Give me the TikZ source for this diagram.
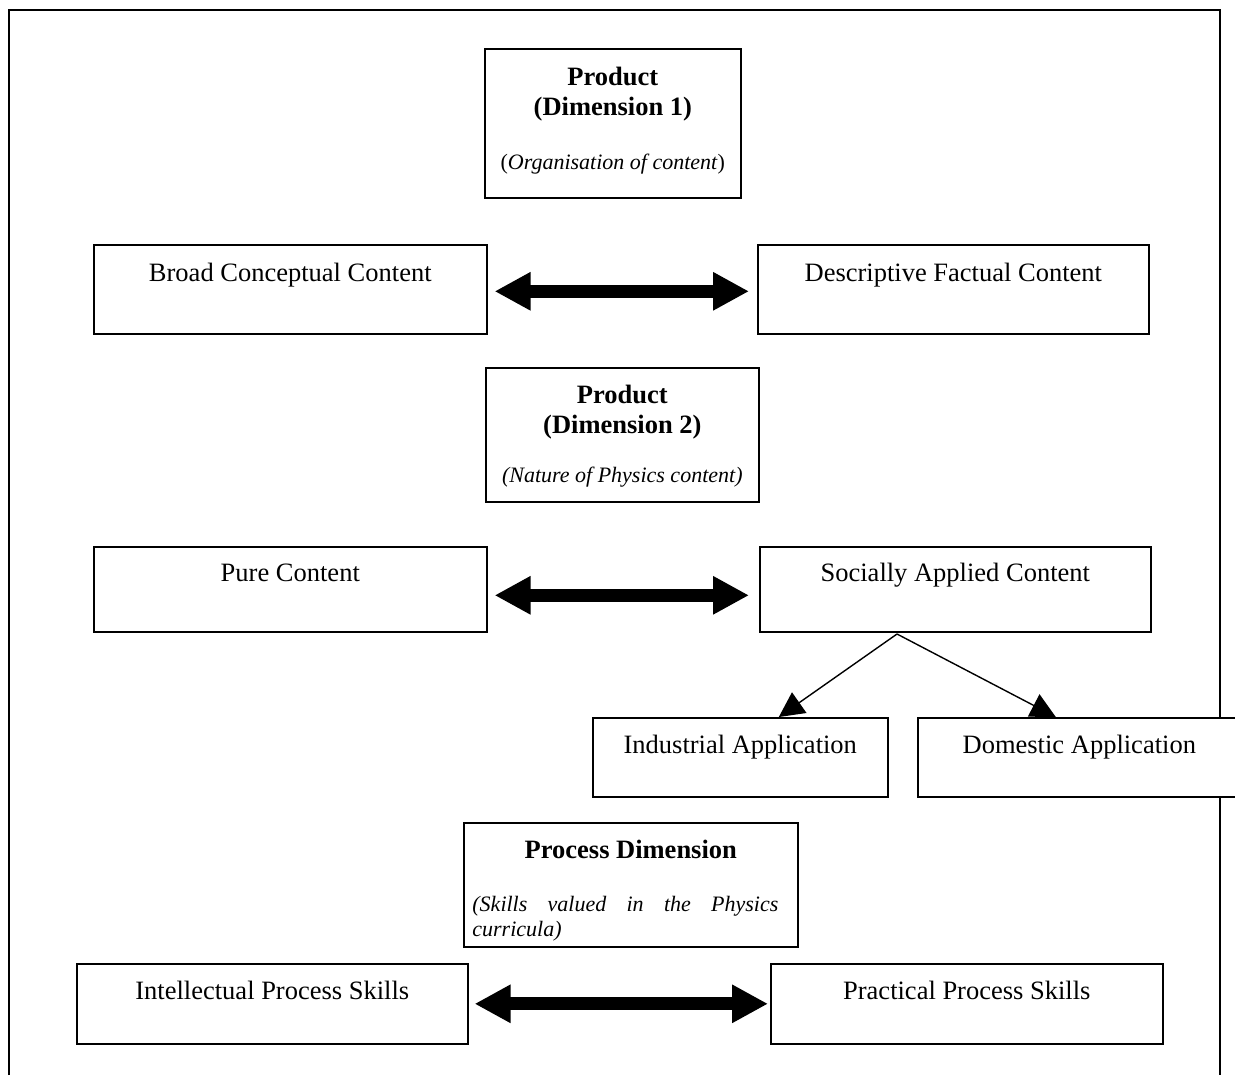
\documentclass[tikz,border=0pt]{standalone}
\usepackage{fontspec}
\setmainfont{Liberation Serif}
\usetikzlibrary{arrows.meta}

\begin{document}
\begin{tikzpicture}[x=0.5pt,y=-0.5pt,
	box/.style={draw=black,line width=0.8pt,fill=white,anchor=north west,inner sep=0pt},
	boxtext/.style={inner sep=0pt,font=\fontsize{13.25}{15}\selectfont},
	title/.style={inner sep=0pt,align=center,font=\fontsize{13.25}{15}\selectfont\bfseries},
	note/.style={inner sep=0pt,font=\fontsize{11}{12.5}\selectfont\itshape},
	bigarrow/.style={line width=6.5pt,{Triangle[length=18pt,width=18pt]}-{Triangle[length=18pt,width=18pt]}},
	thinarrow/.style={line width=0.7pt,-{Triangle[length=12.5pt,width=12.5pt]}}]
					\useasboundingbox (0,0) rectangle (1235,1075);
					\draw[line width=1pt] (9,1075) -- (9,10) -- (1220,10) -- (1220,1075);
					
					\node[box,minimum width=128pt,minimum height=74.5pt] (prodone) at (484,48) {};
					\node[title,anchor=north] (prodonetitle) at ([yshift=-9.5pt]prodone.north) {Product\\(Dimension 1)};
					\node[note,anchor=base] (prodonenote) at ([yshift=-61pt]prodone.north) {\upshape(\textit{Organisation of content}\/)};
					
					\node[box,minimum width=196.5pt,minimum height=44.5pt] (broad) at (93,244) {};
					\node[boxtext,anchor=base] (broadtxt) at ([yshift=-18.5pt]broad.north) {Broad Conceptual Content};
					\node[box,minimum width=195.5pt,minimum height=44.5pt] (descr) at (757,244) {};
					\node[boxtext,anchor=base] (descrtxt) at ([yshift=-18.5pt]descr.north) {Descriptive Factual Content};
					
					\node[box,minimum width=136.5pt,minimum height=67pt] (prodtwo) at (485,367) {};
					\node[title,anchor=north] (prodtwotitle) at ([yshift=-9pt]prodtwo.north) {Product\\(Dimension 2)};
					\node[note,anchor=base] (prodtwonote) at ([yshift=-57.5pt]prodtwo.north) {(Nature of Physics content)};
					
					\node[box,minimum width=196.5pt,minimum height=42.5pt] (pure) at (93,546) {};
					\node[boxtext,anchor=base] (puretxt) at ([yshift=-17.5pt]pure.north) {Pure Content};
					\node[box,minimum width=195.5pt,minimum height=42.5pt] (social) at (759,546) {};
					\node[boxtext,anchor=base] (socialtxt) at ([yshift=-17.5pt]social.north) {Socially Applied Content};
					
					\node[box,minimum width=147.5pt,minimum height=39.5pt] (indus) at (592,717) {};
					\node[boxtext,anchor=base] (industxt) at ([yshift=-18pt]indus.north) {Industrial Application};
					\node[box,minimum width=161.5pt,minimum height=39.5pt] (domes) at (917,717) {};
					\node[boxtext,anchor=base] (domestxt) at ([yshift=-18pt]domes.north) {Domestic Application};
					
					\node[box,minimum width=167pt,minimum height=62pt] (procdim) at (463,822) {};
					\node[title,anchor=base] (procdimtitle) at ([yshift=-18pt]procdim.north) {Process Dimension};
					\node[note,anchor=north west,text width=153pt,align=justify] (procdimnote) at ([xshift=4.5pt,yshift=-37pt]procdim.north west) {(Skills valued in the Physics\linebreak curricula)};
					
					\node[box,minimum width=195.5pt,minimum height=40pt] (intel) at (76,963) {};
					\node[boxtext,anchor=base] (inteltxt) at ([yshift=-18pt]intel.north) {Intellectual Process Skills};
					\node[box,minimum width=196pt,minimum height=40pt] (pract) at (770,963) {};
					\node[boxtext,anchor=base] (practtxt) at ([yshift=-18pt]pract.north) {Practical Process Skills};
					
					\draw[bigarrow,shorten <=3.5pt,shorten >=4pt] ([yshift=-1pt]broad.east) -- ([yshift=-1pt]descr.west);
					\draw[bigarrow,shorten <=3.5pt,shorten >=5pt] ([yshift=-3pt]pure.east) -- ([yshift=-3pt]social.west);
					\draw[bigarrow,shorten <=3pt,shorten >=1pt] (intel.east) -- (pract.west);
					
					\coordinate (fork) at (897,634);
					\draw[thinarrow] (fork) -- ([xshift=19.25pt]indus.north);
					\draw[thinarrow] (fork) -- ([xshift=-11.75pt]domes.north);
				\end{tikzpicture}
\end{document}
